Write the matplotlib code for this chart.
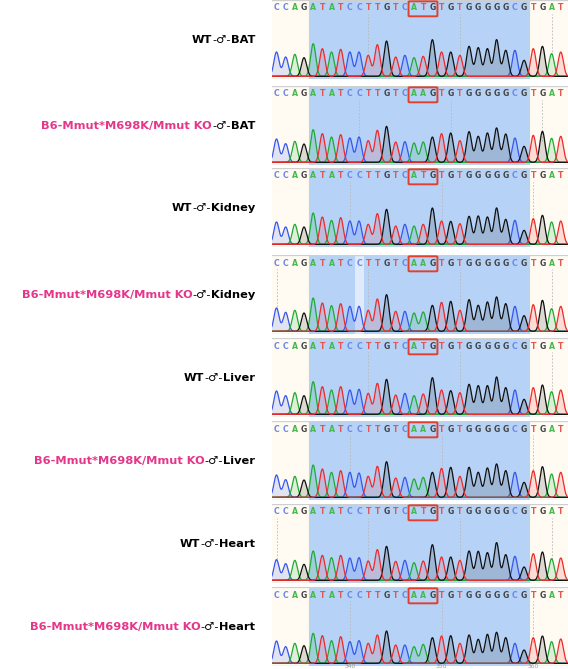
"""
sanger chromatograms, WT vs Mmut M698K, four tissues
"""
import numpy as np
import matplotlib
matplotlib.use("Agg")
from matplotlib import pyplot as plt
from matplotlib.patches import FancyBboxPatch

plt.rcParams['font.family'] = ['DejaVu Sans']

wt_seq = "CCAGATATCCTTGTCATGTGTGGGGGCGTGAT"
mut_seq = "CCAGATATCCTTGTCAAGTGTGGGGGCGTGAT"

genotypes = ["WT", "B6-Mmut*M698K/Mmut KO"] * 4
tissues = ["BAT", "BAT", "Kidney", "Kidney", "Liver", "Liver", "Heart", "Heart"]

# peak heights per base (arbitrary signal units)
wt_bat = [73, 58, 66, 56, 98, 83, 73, 81, 73, 73, 63, 95, 106, 58, 63, 56,
          60, 110, 73, 73, 63, 90, 86, 83, 110, 78, 78, 48, 83, 90, 68, 73]
mut_bat = [70, 56, 63, 55, 98, 86, 76, 83, 73, 76, 65, 96, 108, 61, 62, 58,
           61, 76, 86, 88, 65, 92, 78, 88, 103, 85, 73, 48, 81, 93, 72, 78]
wt_kidney = [67, 52, 60, 52, 94, 82, 72, 80, 70, 70, 60, 92, 105, 55, 60, 55,
             60, 109, 70, 69, 62, 84, 85, 82, 109, 75, 72, 42, 77, 87, 67, 70]
mut_kidney = [70, 57, 63, 55, 100, 85, 77, 83, 75, 75, 63, 97, 110, 60, 60, 55,
              58, 78, 87, 90, 63, 95, 78, 88, 103, 83, 75, 47, 80, 93, 68, 75]
wt_liver = [70, 56, 65, 56, 98, 83, 73, 83, 73, 75, 63, 93, 105, 58, 63, 56,
            61, 110, 73, 71, 65, 90, 86, 86, 112, 80, 73, 45, 80, 88, 68, 73]
mut_liver = [67, 53, 63, 52, 97, 85, 75, 80, 75, 73, 63, 93, 107, 58, 60, 55,
             60, 75, 87, 90, 63, 90, 75, 88, 100, 80, 75, 45, 80, 92, 70, 75]
wt_heart = [62, 50, 60, 48, 88, 75, 68, 75, 67, 68, 58, 92, 102, 57, 60, 53,
            58, 107, 70, 70, 60, 88, 87, 83, 113, 77, 72, 40, 80, 85, 65, 67]
mut_heart = [67, 50, 60, 53, 90, 83, 68, 80, 65, 68, 60, 85, 97, 55, 55, 50,
             57, 77, 82, 83, 60, 85, 72, 87, 93, 77, 60, 40, 77, 82, 65, 73]
heights = [wt_bat, mut_bat, wt_kidney, mut_kidney,
           wt_liver, mut_liver, wt_heart, mut_heart]

# bases carrying the dotted position marks in each trace
marker_bases = [[10, 20, 30], [9, 19, 29], [8, 18, 28], [0, 10, 20, 30],
                [10, 20, 30], [8, 18, 28], [0, 10, 20, 30], [8, 18, 28]]
position_labels = ["340", "350", "360"]

trace_colors = {"A": "#1faa35", "C": "#3656ee", "G": "#111111", "T": "#ee2a2a"}
letter_colors = {"A": "#44b84a", "C": "#6a88e6", "G": "#444444", "T": "#e65650"}
pink = "#e5368a"

W, H = 568, 669
panel_tops = [0, 86, 168, 255, 338, 421, 504, 587]
panel_h = 79
panel_x0 = 272
base0_px, step_px = 276.5, 9.17

fig = plt.figure(figsize=(W / 100, H / 100), dpi=100)

xlim = ((panel_x0 - base0_px) / step_px, (W - base0_px) / step_px)
x = np.linspace(xlim[0] - 1, xlim[1] + 1, 2000)
sigma = 0.28

for k, top in enumerate(panel_tops):
    ax = fig.add_axes([panel_x0 / W, 1 - (top + panel_h) / H,
                       (W - panel_x0) / W, panel_h / H])
    ax.set_xlim(*xlim)
    ax.set_ylim(-8, 229)
    ax.set_facecolor("#fffbf2")
    ax.axvspan(3.5, 27.5, facecolor="#b6d3f7", edgecolor="#cfd6a6", lw=0.8, zorder=0)
    if k == 3:
        ax.axvspan(8.55, 9.5, facecolor="#dfeafb", edgecolor="none", zorder=0.5)
    for s in ax.spines.values():
        s.set_visible(False)
    for yy in (-8, 229):
        ax.axhline(yy, color="#cfcfcf", lw=0.9)
    ax.set_xticks([])
    ax.set_yticks([])

    seq = wt_seq if k % 2 == 0 else mut_seq
    h = heights[k]

    for i in marker_bases[k]:
        ax.vlines(i, 64, 186, colors="#b8b8b8", linestyles=(0, (2, 2)), lw=0.6, zorder=1)

    for b in "CAGT":
        y = np.zeros_like(x)
        for i, base in enumerate(seq):
            if base == b:
                y += h[i] * np.exp(-(x - i) ** 2 / (2 * sigma ** 2))
        ax.fill_between(x, 0, y, color=trace_colors[b], alpha=0.14, lw=0, zorder=2)
        ax.plot(x, y, color=trace_colors[b], lw=0.9, zorder=3)

    for i, base in enumerate(seq):
        ax.text(i, 205, base, ha="center", va="center", fontsize=5.6,
                fontweight="bold", color=letter_colors[base], zorder=4)

    ax.add_patch(FancyBboxPatch((14.4, 180), 3.15, 45,
                                boxstyle="round,pad=0,rounding_size=0.15",
                                mutation_aspect=14, fill=False, ec="#e0412f",
                                lw=1.4, zorder=5))

    if k == len(panel_tops) - 1:
        for i, lab in zip(marker_bases[k], position_labels):
            ax.annotate(lab, xy=(i, 0), xycoords=("data", "figure fraction"),
                        ha="center", va="bottom", fontsize=4.3, color="#999999",
                        annotation_clip=False)

    # left label, built right to left so the colours can differ
    parts = [(genotypes[k], pink if genotypes[k] != "WT" else "black", "bold"),
             ("-\u2642-", "black", "normal"),
             (tissues[k], "black", "bold")]
    prev = None
    for txt, color, weight in reversed(parts):
        if prev is None:
            prev = fig.text(255 / W, 1 - (top + 40) / H, txt, ha="right", va="center",
                            fontsize=8.2, fontweight=weight, color=color)
        else:
            prev = ax.annotate(txt, xy=(0, 0.5), xycoords=prev, ha="right", va="center",
                               fontsize=8.2, fontweight=weight, color=color,
                               annotation_clip=False)

fig.savefig("out.png", dpi=100)
